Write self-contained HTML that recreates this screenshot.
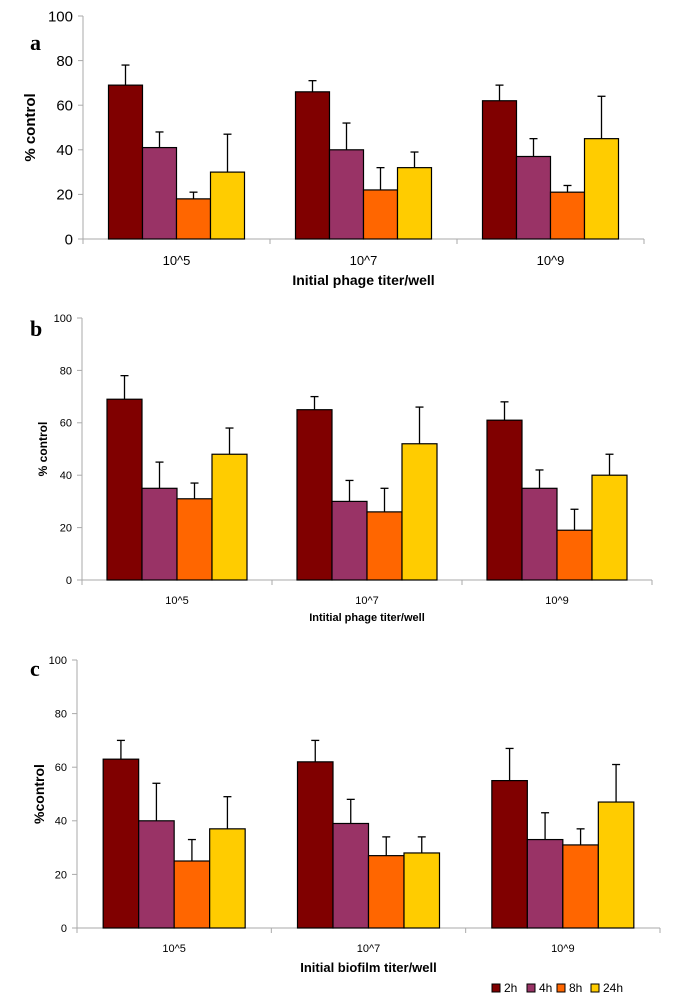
<!DOCTYPE html>
<html><head><meta charset="utf-8"><style>body{margin:0;background:#fff}svg{display:block}</style></head>
<body>
<svg id="c" width="677" height="1000" xmlns="http://www.w3.org/2000/svg" font-family="Liberation Sans, sans-serif"></svg>
<script>
const categories = ["10^5","10^7","10^9"];
const seriesNames = ["2h","4h","8h","24h"];
const colors = ["#800000","#993366","#FF6600","#FFCC00"];
const yTicks = [0,20,40,60,80,100];
const aValues = [[69,41,18,30],[66,40,22,32],[62,37,21,45]];
const aErrTop = [[78,48,21,47],[71,52,32,39],[69,45,24,64]];
const bValues = [[69,35,31,48],[65,30,26,52],[61,35,19,40]];
const bErrTop = [[78,45,37,58],[70,38,35,66],[68,42,27,48]];
const cValues = [[63,40,25,37],[62,39,27,28],[55,33,31,47]];
const cErrTop = [[70,54,33,49],[70,48,34,34],[67,43,37,61]];

const svg = document.getElementById('c');
const NS = 'http://www.w3.org/2000/svg';
function mk(tag, at, txt){const e=document.createElementNS(NS,tag);for(const k in at)e.setAttribute(k,at[k]);if(txt!==undefined)e.textContent=txt;svg.appendChild(e);return e;}

const panels = [
 {id:'a',vals:aValues,err:aErrTop,x0:83,x1:644,y0:239,y100:16,barW:34,tickFs:15,catFs:13,titleFs:14,title:'Initial phage titer/well',titleY:285,yTitle:'% control',yTitleX:35,yTitleFs:15,letterY:50},
 {id:'b',vals:bValues,err:bErrTop,x0:82,x1:652,y0:580,y100:318,barW:35,tickFs:11,catFs:11,titleFs:11,title:'Intitial phage titer/well',titleY:621,yTitle:'% control',yTitleX:47,yTitleFs:12,letterY:336},
 {id:'c',vals:cValues,err:cErrTop,x0:77,x1:660,y0:928,y100:660,barW:35.5,tickFs:11,catFs:11,titleFs:13,title:'Initial biofilm titer/well',titleY:972,yTitle:'%control',yTitleX:44,yTitleFs:14,letterY:676}
];

panels.forEach(p=>{
 const y = v => p.y0 - (p.y0-p.y100)*v/100;
 const gw = (p.x1-p.x0)/categories.length;
 const l = mk('text',{x:30,y:p.letterY,'font-family':'Liberation Serif, serif','font-weight':'bold','font-size':22},p.id);
 
 
 const ax = mk('line',{x1:p.x0,y1:p.y100,x2:p.x0,y2:p.y0,stroke:'#aaa','stroke-width':1});
 
 
 const xa = mk('line',{x1:p.x0,y1:p.y0,x2:p.x1,y2:p.y0,stroke:'#aaa','stroke-width':1});
 
 
 yTicks.forEach(t=>{
  mk('line',{x1:p.x0-5,y1:y(t),x2:p.x0,y2:y(t),stroke:'#aaa'});
  const tl = mk('text',{x:p.x0-10,y:y(t)+p.tickFs*0.35,'text-anchor':'end','font-size':p.tickFs},String(t));
  
  
 });
 for(let i=0;i<=categories.length;i++){mk('line',{x1:p.x0+gw*i,y1:p.y0,x2:p.x0+gw*i,y2:p.y0+5,stroke:'#aaa'});}
 categories.forEach((c,i)=>{
  const gx = p.x0+gw*i+(gw-4*p.barW)/2;
  p.vals[i].forEach((v,j)=>{
   const bx = gx+j*p.barW;
   const cx = bx+p.barW/2;
   const e1 = mk('line',{x1:cx,y1:y(p.err[i][j]),x2:cx,y2:y(v),stroke:'#000','stroke-width':1.3});
   
   
   mk('line',{x1:cx-4,y1:y(p.err[i][j]),x2:cx+4,y2:y(p.err[i][j]),stroke:'#000','stroke-width':1.3});
   const r = mk('rect',{x:bx,y:y(v),width:p.barW,height:p.y0-y(v),fill:colors[j],stroke:'#000','stroke-width':1.2});
   
   
  });
  const cl = mk('text',{x:p.x0+gw*(i+0.5),y:p.y0+p.catFs+13,'text-anchor':'middle','font-size':p.catFs},c);
  
  
 });
 const xt = mk('text',{x:(p.x0+p.x1)/2,y:p.titleY,'text-anchor':'middle','font-size':p.titleFs,'font-weight':'bold'},p.title);
 
 
 const ym = (p.y0+p.y100)/2;
 const yt = mk('text',{x:p.yTitleX,y:ym,'text-anchor':'middle','font-size':p.yTitleFs,'font-weight':'bold',transform:`rotate(-90 ${p.yTitleX} ${ym})`},p.yTitle);
 
 
});

const lx=[492,527,557,591];
seriesNames.forEach((s,j)=>{
 const sq = mk('rect',{x:lx[j],y:984,width:8,height:8,fill:colors[j],stroke:'#000','stroke-width':1});
 
 
 const t = mk('text',{x:lx[j]+12,y:992,'font-size':12},s);
 
 
});
</script>
</body></html>
